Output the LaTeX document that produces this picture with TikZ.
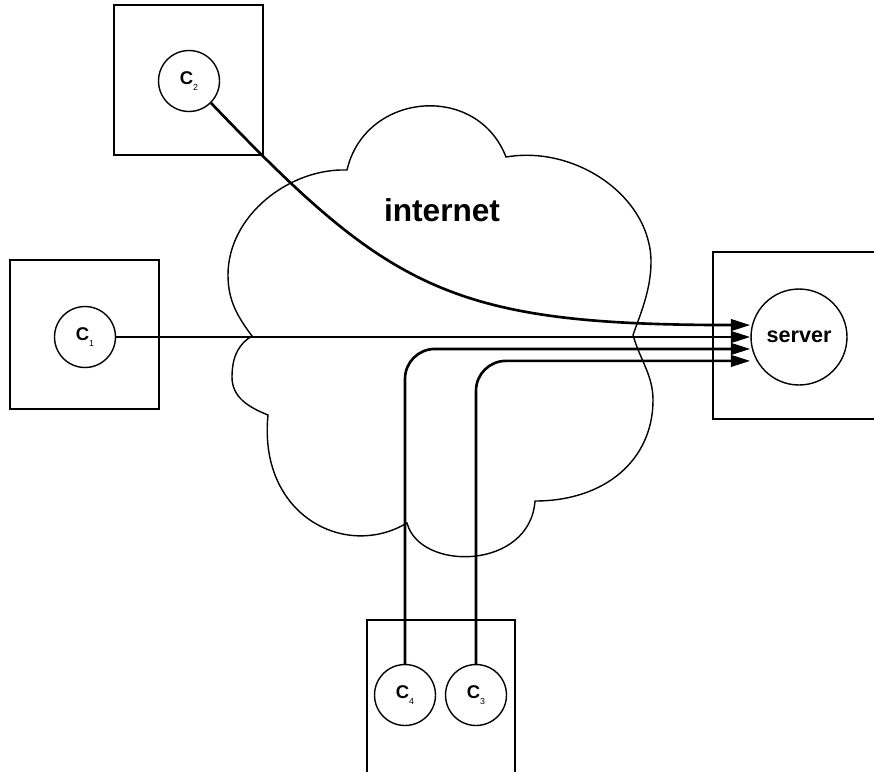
\documentclass[tikz,border=0pt]{standalone}
\usepackage{fontspec}
\setmainfont{Liberation Sans}
\usepackage{tikz}
\usetikzlibrary{arrows.meta}

\newcommand{\hostname}[1]{C\raisebox{-3.4pt}{\fontsize{5}{6}\selectfont\mdseries #1}}

\begin{document}
\begin{tikzpicture}[x=0.02cm, y=-0.02cm,
    host/.style={circle, draw, line width=0.8pt, minimum size=1.22cm, inner sep=0pt,
      font=\fontsize{10.5}{12}\selectfont\bfseries},
    frame/.style={line width=1.1pt},
    cloudline/.style={line width=0.8pt},
    link/.style={line width=1.5pt, -{Triangle[length=11pt,width=6.5pt]}}]
  \useasboundingbox (0,0) rectangle (874,771);
  \clip (0,0) rectangle (874,771);
  \draw[cloudline] (347,170)
    .. controls (365,92) and (477,82) .. (506,157)
    .. controls (576,145) and (651,197) .. (651,262)
    .. controls (651,290) and (640,315) .. (633,335)
    .. controls (640,360) and (653,375) .. (653,400)
    .. controls (653,460) and (605,501) .. (535,501)
    .. controls (530,570) and (420,572) .. (407,523)
    .. controls (345,560) and (258,515) .. (268,415)
    .. controls (248,407) and (232,397) .. (232,377)
    .. controls (232,355) and (240,343) .. (252,336)
    .. controls (237,316) and (228,300) .. (228,275)
    .. controls (228,215) and (290,168) .. (347,170) -- cycle;
  \node[font=\fontsize{18}{20}\selectfont\bfseries] (net) at (442,210) {internet};
  \draw[frame] (114,5) rectangle (263,155);
  \draw[frame] (10,260) rectangle (159,409);
  \draw[frame] (713,252) rectangle (890,419);
  \draw[frame] (367,620) rectangle (515,790);
  \node[host] (c2) at (189,81) {\hostname{2}};
  \node[host] (c1) at (85,337) {\hostname{1}};
  \node[host] (c4) at (405,695) {\hostname{4}};
  \node[host] (c3) at (476,695) {\hostname{3}};
  \node[host, minimum size=1.92cm, font=\fontsize{12.3}{14}\selectfont\bfseries] (server) at (799,337) {server};
  \draw[link] (c2.-45) .. controls (390,290) and (450,325) .. ([yshift=6.8pt]server.west);
  \draw[link] (c1.east) -- (server.west);
  \draw[link, rounded corners=17pt] (c4.north) |- ([yshift=-6.8pt]server.west);
  \draw[link, rounded corners=17pt] (c3.north) |- ([yshift=-13.6pt]server.west);
\end{tikzpicture}
\end{document}
